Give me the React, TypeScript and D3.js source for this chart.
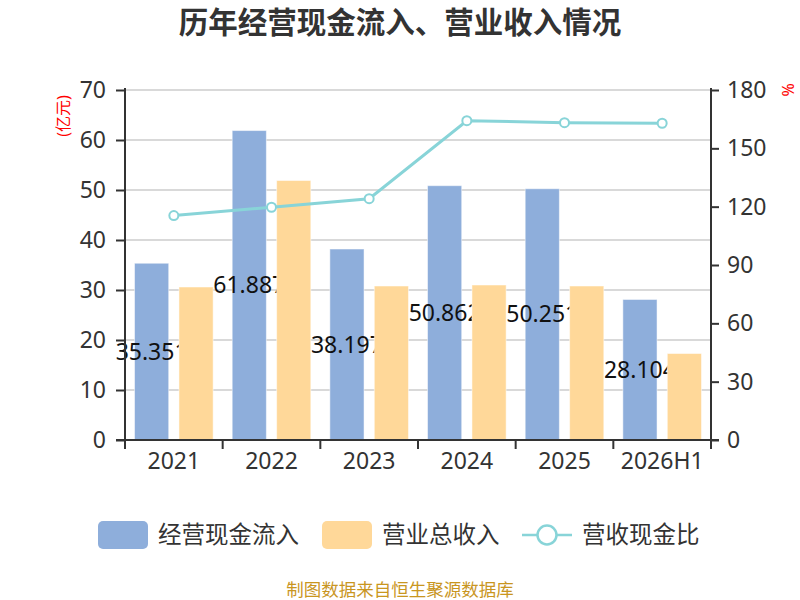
import { useEffect, useRef } from 'react';
import * as d3 from 'd3';

const years = ['2021', '2022', '2023', '2024', '2025', '2026H1'];
const cashInflow = [35.351, 61.887, 38.197, 50.862, 50.251, 28.104];
const revenue = [30.6, 51.9, 30.8, 31.0, 30.8, 17.3];
const ratio = [115.4, 119.7, 124.1, 164.2, 163.2, 162.9];
const leftTicks = [0, 10, 20, 30, 40, 50, 60, 70];
const rightTicks = [0, 30, 60, 90, 120, 150, 180];

const BLUE = '#8eaedb';
const YELLOW = '#ffd899';
const TEAL = '#88d4d8';
const FONT = '"Noto Sans", "Noto Sans CJK SC", sans-serif';

const App = () => {
  const ref = useRef<SVGSVGElement>(null);

  useEffect(() => {
    const svg = d3.select(ref.current);
    svg.selectAll('*').remove();

    const left = 125;
    const right = 711;
    const top = 90;
    const bottom = 440;

    const x = d3.scaleBand<string>().domain(years).range([left, right]);
    const y = d3.scaleLinear().domain([0, 70]).range([bottom, top]);
    const y2 = d3.scaleLinear().domain([0, 180]).range([bottom, top]);
    const bw = x.bandwidth() * 0.35;
    const gap = bw * 0.3;
    const off = (x.bandwidth() - 2 * bw - gap) / 2;

    // title
    svg
      .append('text')
      .attr('x', 400)
      .attr('y', 33)
      .attr('text-anchor', 'middle')
      .attr('font-size', 29.5)
      .attr('font-weight', 'bold')
      .attr('fill', '#333')
      .text('历年经营现金流入、营业收入情况');

    // grid
    svg
      .append('g')
      .selectAll('line')
      .data(leftTicks.slice(1))
      .join('line')
      .attr('x1', left)
      .attr('x2', right)
      .attr('y1', (d) => y(d))
      .attr('y2', (d) => y(d))
      .attr('stroke', '#cccccc')
      .attr('stroke-width', 1.5);

    // blue bars
    svg
      .append('g')
      .selectAll('rect')
      .data(cashInflow)
      .join('rect')
      .attr('x', (_d, i) => (x(years[i]) as number) + off)
      .attr('y', (d) => y(d))
      .attr('width', bw)
      .attr('height', (d) => bottom - y(d))
      .attr('fill', BLUE)
      .attr('stroke', 'rgba(255,255,255,0.5)')
      .attr('stroke-width', 1);

    // labels for blue bars (covered by yellow bars drawn afterwards)
    svg
      .append('g')
      .selectAll('text')
      .data(cashInflow)
      .join('text')
      .attr('x', (_d, i) => (x(years[i]) as number) + off + bw / 2)
      .attr('y', (d) => (y(d) + bottom) / 2)
      .attr('dy', '0.35em')
      .attr('text-anchor', 'middle')
      .attr('font-size', 23)
      .attr('fill', '#111')
      .text((d) => d.toFixed(3));

    // yellow bars
    svg
      .append('g')
      .selectAll('rect')
      .data(revenue)
      .join('rect')
      .attr('x', (_d, i) => (x(years[i]) as number) + off + bw + gap)
      .attr('y', (d) => y(d))
      .attr('width', bw)
      .attr('height', (d) => bottom - y(d))
      .attr('fill', YELLOW)
      .attr('stroke', 'rgba(255,255,255,0.5)')
      .attr('stroke-width', 1);

    // axes
    const axisColor = '#333';
    const lg = svg.append('g').attr('transform', `translate(${left},0)`).call(
      d3.axisLeft(y).tickValues(leftTicks).tickSize(9).tickPadding(10)
    );
    const rg = svg.append('g').attr('transform', `translate(${right},0)`).call(
      d3.axisRight(y2).tickValues(rightTicks).tickSize(8).tickPadding(8)
    );
    const bg = svg.append('g').attr('transform', `translate(0,${bottom})`).call(
      d3.axisBottom(x).tickSize(0).tickPadding(13)
    );
    [lg, rg, bg].forEach((g) => {
      g.select('.domain').attr('stroke', axisColor).attr('stroke-width', 2);
      g.selectAll('.tick line').attr('stroke', axisColor).attr('stroke-width', 2);
      g.selectAll('.tick text')
        .attr('fill', '#333')
        .attr('font-size', 23)
        .attr('font-family', FONT);
    });
    lg.select('.domain').attr('d', `M0,${bottom}V${top - 2}`);
    rg.select('.domain').attr('d', `M0,${bottom}V${top - 2}`);
    bg.select('.domain').attr('d', `M${left - 9},0H${right + 8}`);
    // category boundary ticks
    bg.append('g')
      .selectAll('line')
      .data(years.concat(['end']))
      .join('line')
      .attr('x1', (_d, i) => left + i * x.step())
      .attr('x2', (_d, i) => left + i * x.step())
      .attr('y1', 0)
      .attr('y2', 9)
      .attr('stroke', axisColor)
      .attr('stroke-width', 2);

    // units
    svg
      .append('text')
      .attr('transform', 'translate(63,116) rotate(-90)')
      .attr('text-anchor', 'middle')
      .attr('dy', '0.35em')
      .attr('font-size', 16)
      .attr('fill', '#ff0000')
      .text('(亿元)');
    svg
      .append('text')
      .attr('transform', 'translate(788,90) rotate(90)')
      .attr('text-anchor', 'middle')
      .attr('dy', '0.35em')
      .attr('font-size', 16)
      .attr('fill', '#ff0000')
      .text('%');

    // ratio line
    const line = d3
      .line<number>()
      .x((_d, i) => (x(years[i]) as number) + x.bandwidth() / 2)
      .y((d) => y2(d));
    svg
      .append('path')
      .datum(ratio)
      .attr('d', line)
      .attr('fill', 'none')
      .attr('stroke', TEAL)
      .attr('stroke-width', 3);
    svg
      .append('g')
      .selectAll('circle')
      .data(ratio)
      .join('circle')
      .attr('cx', (_d, i) => (x(years[i]) as number) + x.bandwidth() / 2)
      .attr('cy', (d) => y2(d))
      .attr('r', 4.5)
      .attr('fill', '#fff')
      .attr('stroke', TEAL)
      .attr('stroke-width', 2);

    // legend
    const legend = svg.append('g').attr('font-size', 23.5).attr('fill', '#333');
    const ly = 535;
    legend
      .append('rect')
      .attr('x', 98)
      .attr('y', ly - 14)
      .attr('width', 50)
      .attr('height', 28)
      .attr('rx', 5)
      .attr('fill', BLUE);
    legend.append('text').attr('x', 158).attr('y', ly).attr('dy', '0.35em').text('经营现金流入');
    legend
      .append('rect')
      .attr('x', 322)
      .attr('y', ly - 14)
      .attr('width', 50)
      .attr('height', 28)
      .attr('rx', 5)
      .attr('fill', YELLOW);
    legend.append('text').attr('x', 382).attr('y', ly).attr('dy', '0.35em').text('营业总收入');
    legend
      .append('line')
      .attr('x1', 522)
      .attr('x2', 572)
      .attr('y1', ly)
      .attr('y2', ly)
      .attr('stroke', TEAL)
      .attr('stroke-width', 2.5);
    legend
      .append('circle')
      .attr('cx', 547)
      .attr('cy', ly)
      .attr('r', 9.5)
      .attr('fill', '#fff')
      .attr('stroke', TEAL)
      .attr('stroke-width', 2.5);
    legend.append('text').attr('x', 582).attr('y', ly).attr('dy', '0.35em').text('营收现金比');

    // source
    svg
      .append('text')
      .attr('x', 400)
      .attr('y', 590)
      .attr('dy', '0.35em')
      .attr('text-anchor', 'middle')
      .attr('font-size', 17.5)
      .attr('fill', '#c9961f')
      .text('制图数据来自恒生聚源数据库');
  }, []);

  return (
    <svg
      ref={ref}
      width={800}
      height={600}
      style={{ position: 'absolute', left: 0, top: 0, fontFamily: FONT }}
    />
  );
};

export default App;
